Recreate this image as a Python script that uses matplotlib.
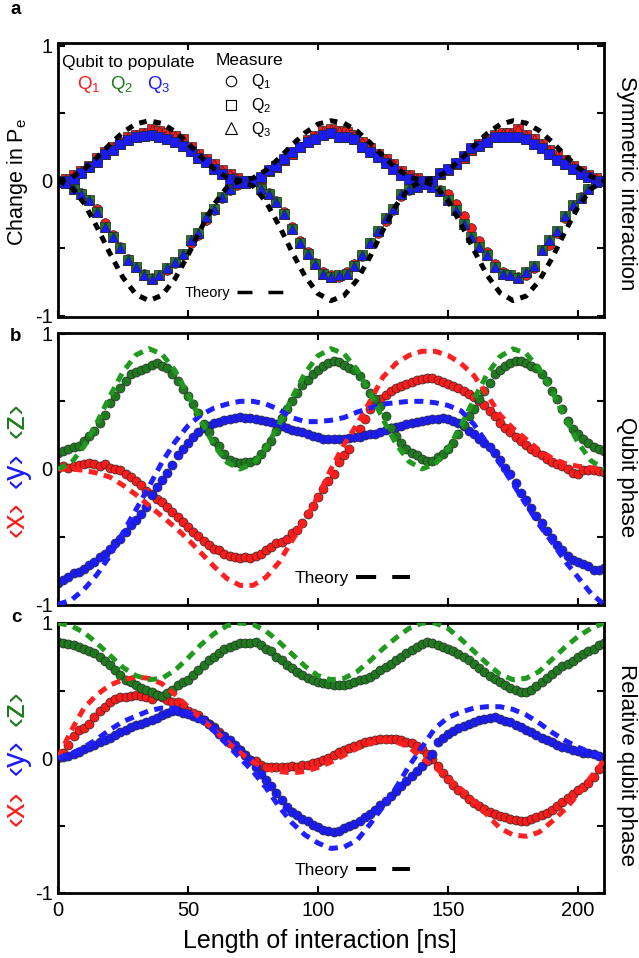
import numpy as np
import matplotlib
matplotlib.use("Agg")
import matplotlib.pyplot as plt
from matplotlib.lines import Line2D

plt.rcParams['font.family'] = ['Liberation Sans', 'DejaVu Sans']
plt.rcParams['mathtext.fontset'] = 'custom'
plt.rcParams['mathtext.rm'] = 'Liberation Sans'
plt.rcParams['mathtext.it'] = 'Liberation Sans:italic'
plt.rcParams['mathtext.bf'] = 'Liberation Sans:bold'

# ---------------- data ----------------
# Panel a: sampled every 3 ns
t_a = np.arange(0, 211, 3)
lower_q23 = [-0.01, -0.015, -0.06, -0.10, -0.145, -0.23, -0.34, -0.42, -0.50, -0.59,
             -0.64, -0.70, -0.73, -0.70, -0.65, -0.60, -0.545, -0.44, -0.39, -0.27,
             -0.21, -0.12, -0.065, -0.02, -0.015, -0.005, -0.06, -0.10, -0.16, -0.25,
             -0.36, -0.46, -0.54, -0.62, -0.69, -0.71, -0.70, -0.69, -0.63, -0.55,
             -0.46, -0.37, -0.28, -0.21, -0.10, -0.065, -0.045, -0.025, -0.045, -0.08,
             -0.145, -0.22, -0.32, -0.42, -0.49, -0.55, -0.64, -0.69, -0.70, -0.72,
             -0.68, -0.63, -0.515, -0.44, -0.37, -0.26, -0.18, -0.13, -0.06, -0.01,
             0.0]
lower_q1 = [0.0, -0.01, -0.05, -0.09, -0.14, -0.21, -0.31, -0.40, -0.49, -0.58,
            -0.64, -0.69, -0.72, -0.70, -0.66, -0.61, -0.55, -0.46, -0.40, -0.29,
            -0.22, -0.13, -0.07, -0.03, -0.01, 0.0, -0.05, -0.09, -0.15, -0.23,
            -0.34, -0.45, -0.53, -0.61, -0.68, -0.70, -0.71, -0.68, -0.62, -0.56,
            -0.46, -0.39, -0.30, -0.22, -0.11, -0.07, -0.04, -0.02, -0.03, -0.07,
            -0.10, -0.17, -0.26, -0.35, -0.45, -0.53, -0.62, -0.68, -0.70, -0.71,
            -0.70, -0.65, -0.51, -0.48, -0.39, -0.28, -0.19, -0.12, -0.06, -0.01,
            0.0]
upper_q23 = [0.0, 0.0, 0.015, 0.06, 0.10, 0.14, 0.20, 0.23, 0.275, 0.30,
             0.325, 0.33, 0.335, 0.325, 0.31, 0.29, 0.26, 0.22, 0.17, 0.14,
             0.09, 0.05, 0.015, 0.0, 0.0, 0.0, 0.03, 0.08, 0.11, 0.16,
             0.21, 0.25, 0.29, 0.31, 0.335, 0.35, 0.325, 0.325, 0.31, 0.25,
             0.21, 0.175, 0.13, 0.09, 0.04, 0.015, 0.0, 0.0, 0.0, 0.06,
             0.09, 0.13, 0.18, 0.24, 0.26, 0.29, 0.325, 0.325, 0.325, 0.325,
             0.31, 0.275, 0.24, 0.20, 0.15, 0.125, 0.09, 0.05, 0.03, 0.0,
             0.0]
upper_q1 = [0.0, 0.01, 0.04, 0.07, 0.11, 0.17, 0.21, 0.25, 0.29, 0.32,
            0.34, 0.35, 0.385, 0.37, 0.35, 0.33, 0.31, 0.25, 0.20, 0.16,
            0.12, 0.08, 0.05, 0.02, 0.0, 0.0, 0.02, 0.07, 0.10, 0.15,
            0.20, 0.25, 0.30, 0.33, 0.37, 0.38, 0.37, 0.36, 0.34, 0.29,
            0.24, 0.20, 0.16, 0.12, 0.07, 0.04, 0.02, 0.0, 0.0, 0.05,
            0.08, 0.12, 0.17, 0.23, 0.27, 0.31, 0.34, 0.35, 0.35, 0.385,
            0.34, 0.31, 0.27, 0.23, 0.19, 0.15, 0.11, 0.07, 0.04, 0.02,
            0.0]

# Theory curves sampled every 5 ns
t_th = np.arange(0, 211, 5)
a_th_lower = [0.0, -0.044, -0.166, -0.343, -0.54, -0.718, -0.843, -0.889, -0.849, -0.727,
              -0.552, -0.355, -0.176, -0.049, 0.0, -0.039, -0.157, -0.331, -0.528, -0.708,
              -0.837, -0.889, -0.852, -0.736, -0.564, -0.367, -0.185, -0.055, -0.001, -0.036,
              -0.149, -0.32, -0.516, -0.699, -0.831, -0.888, -0.855, -0.744, -0.575, -0.379,
              -0.195, -0.061, -0.001]
a_th_upper = [0.0, 0.022, 0.083, 0.172, 0.27, 0.359, 0.421, 0.444, 0.424, 0.364,
              0.276, 0.177, 0.088, 0.024, 0.0, 0.019, 0.078, 0.166, 0.264, 0.354,
              0.419, 0.444, 0.426, 0.368, 0.282, 0.183, 0.093, 0.027, 0.0, 0.018,
              0.074, 0.16, 0.258, 0.349, 0.416, 0.444, 0.427, 0.372, 0.288, 0.189,
              0.097, 0.031, 0.0]

# Panels b and c: sampled every 2 ns
t_bc = np.arange(0, 211, 2)
b_x = [0.01, 0.025, 0.01, 0.025, 0.03, 0.035, 0.045, 0.035, 0.025, 0.035,
       0.01, 0.0, -0.01, -0.04, -0.06, -0.09, -0.12, -0.16, -0.185, -0.22,
       -0.245, -0.28, -0.32, -0.355, -0.39, -0.43, -0.465, -0.495, -0.53, -0.565,
       -0.59, -0.60, -0.625, -0.64, -0.65, -0.66, -0.65, -0.655, -0.64, -0.625,
       -0.60, -0.575, -0.55, -0.54, -0.515, -0.47, -0.45, -0.40, -0.33, -0.27,
       -0.21, -0.15, -0.09, -0.04, 0.05, 0.10, 0.15, 0.24, 0.295, 0.37,
       0.44, 0.49, 0.515, 0.55, 0.575, 0.60, 0.615, 0.63, 0.64, 0.655,
       0.665, 0.675, 0.67, 0.655, 0.645, 0.63, 0.615, 0.60, 0.58, 0.555,
       0.53, 0.50, 0.47, 0.43, 0.39, 0.34, 0.30, 0.27, 0.24, 0.21,
       0.18, 0.15, 0.125, 0.10, 0.075, 0.055, 0.035, 0.02, 0.0, -0.03,
       -0.035, -0.01, -0.01, -0.01, -0.015, -0.025]
b_y = [-0.845, -0.82, -0.80, -0.77, -0.76, -0.74, -0.71, -0.685, -0.65, -0.625,
       -0.59, -0.55, -0.515, -0.465, -0.415, -0.38, -0.33, -0.28, -0.19, -0.13,
       -0.08, -0.03, 0.03, 0.10, 0.15, 0.19, 0.24, 0.27, 0.30, 0.32,
       0.34, 0.35, 0.36, 0.37, 0.38, 0.385, 0.375, 0.38, 0.37, 0.36,
       0.355, 0.345, 0.33, 0.32, 0.30, 0.29, 0.28, 0.27, 0.255, 0.245,
       0.235, 0.225, 0.22, 0.22, 0.22, 0.225, 0.23, 0.235, 0.24, 0.25,
       0.255, 0.26, 0.27, 0.285, 0.30, 0.31, 0.32, 0.33, 0.34, 0.35,
       0.355, 0.365, 0.37, 0.37, 0.375, 0.37, 0.355, 0.34, 0.315, 0.28,
       0.255, 0.225, 0.195, 0.16, 0.12, 0.07, 0.01, -0.04, -0.10, -0.18,
       -0.23, -0.29, -0.35, -0.40, -0.455, -0.51, -0.56, -0.60, -0.64, -0.67,
       -0.69, -0.705, -0.72, -0.75, -0.745, -0.735]
b_z = [0.12, 0.135, 0.15, 0.16, 0.17, 0.21, 0.245, 0.28, 0.34, 0.40,
       0.49, 0.54, 0.60, 0.65, 0.70, 0.72, 0.735, 0.75, 0.77, 0.785,
       0.76, 0.75, 0.70, 0.65, 0.59, 0.54, 0.48, 0.415, 0.33, 0.27,
       0.21, 0.17, 0.11, 0.07, 0.05, 0.045, 0.05, 0.05, 0.07, 0.11,
       0.16, 0.21, 0.28, 0.38, 0.44, 0.50, 0.56, 0.62, 0.66, 0.70,
       0.735, 0.76, 0.78, 0.795, 0.79, 0.77, 0.75, 0.73, 0.69, 0.625,
       0.565, 0.515, 0.465, 0.39, 0.305, 0.245, 0.19, 0.15, 0.12, 0.10,
       0.075, 0.06, 0.06, 0.085, 0.11, 0.145, 0.195, 0.255, 0.325, 0.39,
       0.44, 0.515, 0.575, 0.635, 0.70, 0.735, 0.76, 0.78, 0.795, 0.795,
       0.785, 0.76, 0.75, 0.705, 0.65, 0.575, 0.515, 0.44, 0.355, 0.295,
       0.255, 0.22, 0.19, 0.165, 0.145, 0.13]
b_th_x = [0.0, 0.0, -0.01, -0.03, -0.06, -0.12, -0.19, -0.27, -0.35, -0.43,
          -0.52, -0.62, -0.72, -0.81, -0.86, -0.86, -0.80, -0.69, -0.53, -0.38,
          -0.2, 0.0, 0.18, 0.33, 0.5, 0.68, 0.78, 0.84, 0.87, 0.87,
          0.84, 0.78, 0.69, 0.55, 0.40, 0.30, 0.22, 0.14, 0.08, 0.04,
          0.02, 0.01, 0.0]
b_th_y = [-1.0, -0.97, -0.89, -0.78, -0.64, -0.47, -0.30, -0.13, 0.05, 0.20,
          0.32, 0.40, 0.45, 0.48, 0.50, 0.50, 0.48, 0.44, 0.38, 0.35,
          0.35, 0.36, 0.38, 0.42, 0.45, 0.48, 0.49, 0.50, 0.50, 0.49,
          0.47, 0.43, 0.33, 0.19, 0.04, -0.11, -0.26, -0.41, -0.54, -0.68,
          -0.80, -0.92, -1.0]
b_th_z = [0.0, 0.044, 0.166, 0.343, 0.54, 0.718, 0.843, 0.889, 0.849, 0.727,
          0.552, 0.355, 0.176, 0.049, 0.0, 0.039, 0.157, 0.331, 0.528, 0.708,
          0.837, 0.889, 0.852, 0.736, 0.564, 0.367, 0.185, 0.055, 0.001, 0.036,
          0.149, 0.32, 0.516, 0.699, 0.831, 0.888, 0.855, 0.744, 0.575, 0.379,
          0.195, 0.061, 0.001]

c_x = [0.0, 0.035, 0.095, 0.16, 0.21, 0.22, 0.255, 0.305, 0.345, 0.38,
       0.415, 0.44, 0.455, 0.455, 0.46, 0.465, 0.46, 0.45, 0.44, 0.465,
       0.455, 0.43, 0.415, 0.415, 0.38, 0.345, 0.33, 0.32, 0.28, 0.255,
       0.23, 0.195, 0.145, 0.11, 0.085, 0.06, 0.02, -0.015, -0.025, -0.05,
       -0.065, -0.065, -0.065, -0.07, -0.065, -0.06, -0.065, -0.05, -0.05, -0.04,
       -0.03, -0.015, 0.0, 0.02, 0.045, 0.06, 0.075, 0.09, 0.105, 0.115,
       0.125, 0.135, 0.14, 0.14, 0.14, 0.14, 0.13, 0.12, 0.11, 0.09,
       0.07, 0.03, -0.01, -0.06, -0.11, -0.155, -0.20, -0.235, -0.27, -0.30,
       -0.33, -0.355, -0.38, -0.40, -0.415, -0.43, -0.44, -0.45, -0.46, -0.47,
       -0.465, -0.455, -0.44, -0.425, -0.41, -0.385, -0.355, -0.325, -0.295, -0.27,
       -0.24, -0.215, -0.185, -0.14, -0.08, -0.03]
c_y = [0.02, 0.01, 0.015, 0.03, 0.045, 0.07, 0.085, 0.095, 0.115, 0.13,
       0.145, 0.17, 0.19, 0.21, 0.23, 0.245, 0.255, 0.27, 0.28, 0.30,
       0.32, 0.33, 0.345, 0.345, 0.33, 0.325, 0.31, 0.30, 0.28, 0.25,
       0.22, 0.18, 0.16, 0.13, 0.095, 0.06, 0.02, -0.015, -0.065, -0.115,
       -0.165, -0.21, -0.26, -0.31, -0.36, -0.40, -0.42, -0.455, -0.47, -0.495,
       -0.51, -0.53, -0.54, -0.545, -0.54, -0.52, -0.505, -0.49, -0.47, -0.44,
       -0.415, -0.385, -0.35, -0.32, -0.285, -0.245, -0.21, -0.17, -0.135, -0.095,
       -0.06, -0.02, 0.03, 0.12, 0.15, 0.18, 0.20, 0.22, 0.235, 0.255,
       0.27, 0.28, 0.29, 0.30, 0.305, 0.29, 0.275, 0.265, 0.245, 0.23,
       0.21, 0.19, 0.17, 0.15, 0.13, 0.115, 0.10, 0.085, 0.075, 0.06,
       0.05, 0.04, 0.035, 0.03, 0.015, 0.01]
c_z = [0.86, 0.855, 0.845, 0.84, 0.825, 0.805, 0.795, 0.775, 0.75, 0.715,
       0.69, 0.65, 0.615, 0.58, 0.565, 0.54, 0.515, 0.505, 0.49, 0.465,
       0.46, 0.48, 0.505, 0.54, 0.565, 0.58, 0.615, 0.65, 0.69, 0.725,
       0.75, 0.775, 0.805, 0.825, 0.84, 0.85, 0.855, 0.855, 0.86, 0.84,
       0.81, 0.79, 0.75, 0.725, 0.69, 0.665, 0.64, 0.615, 0.59, 0.58,
       0.565, 0.555, 0.545, 0.54, 0.54, 0.54, 0.55, 0.56, 0.575, 0.585,
       0.60, 0.625, 0.65, 0.675, 0.70, 0.725, 0.75, 0.775, 0.80, 0.825,
       0.845, 0.86, 0.855, 0.835, 0.82, 0.805, 0.79, 0.77, 0.75, 0.725,
       0.695, 0.67, 0.64, 0.61, 0.585, 0.56, 0.54, 0.52, 0.505, 0.49,
       0.49, 0.505, 0.53, 0.56, 0.59, 0.62, 0.65, 0.68, 0.70, 0.72,
       0.745, 0.77, 0.79, 0.81, 0.835, 0.85]
c_th_x = [0.0, 0.2, 0.37, 0.47, 0.54, 0.58, 0.60, 0.59, 0.55, 0.47,
          0.38, 0.29, 0.21, 0.12, 0.04, -0.03, -0.08, -0.10, -0.11, -0.10,
          -0.07, -0.03, 0.02, 0.07, 0.11, 0.13, 0.12, 0.08, 0.0, -0.07,
          -0.15, -0.23, -0.32, -0.42, -0.52, -0.57, -0.58, -0.55, -0.47, -0.38,
          -0.27, -0.14, -0.02]
c_th_y = [0.0, 0.03, 0.08, 0.14, 0.21, 0.27, 0.31, 0.35, 0.37, 0.37,
          0.34, 0.28, 0.2, 0.1, 0.0, -0.1, -0.22, -0.36, -0.48, -0.57,
          -0.63, -0.67, -0.66, -0.61, -0.49, -0.36, -0.22, -0.06, 0.08, 0.22,
          0.30, 0.34, 0.37, 0.38, 0.38, 0.36, 0.32, 0.26, 0.19, 0.13,
          0.08, 0.04, 0.01]
c_th_z = [1.0, 0.98, 0.93, 0.85, 0.76, 0.67, 0.61, 0.58, 0.59, 0.65,
          0.74, 0.84, 0.92, 0.98, 1.0, 0.99, 0.94, 0.86, 0.77, 0.68,
          0.61, 0.58, 0.59, 0.64, 0.72, 0.81, 0.89, 0.96, 1.0, 1.0,
          0.96, 0.88, 0.79, 0.70, 0.62, 0.58, 0.59, 0.64, 0.73, 0.82,
          0.90, 0.96, 1.0]

xticks = [0, 50, 100, 150, 200]
yticks = [-1, -0.5, 0, 0.5, 1]
yticklabels = ['-1', '', '0', '', '1']

# ---------------- styles ----------------
RED, GREEN, BLUE = '#ff1a1a', '#1f7a1f', '#1a1aff'
TRED, TGREEN, TBLUE = '#ff2020', '#1f9a1f', '#1f1fff'
EDGE = '#2a2a2a'

W, H = 639, 958
fig = plt.figure(figsize=(W / 100, H / 100), dpi=100)

def px_axes(left, top, right, bottom):
    return fig.add_axes([left / W, 1 - bottom / H, (right - left) / W, (bottom - top) / H])

axA = px_axes(58, 43, 604, 317)
axB = px_axes(58, 333, 604, 605)
axC = px_axes(58, 623, 604, 893)

for ax, ylim in [(axA, (-1.01, 1.02)), (axB, (-1.005, 1.005)), (axC, (-1.0, 1.0))]:
    ax.set_xlim(0, 210)
    ax.set_ylim(*ylim)
    ax.set_xticks(xticks)
    ax.set_yticks(yticks)
    ax.set_yticklabels(yticklabels)
    ax.tick_params(direction='in', top=True, right=True, length=5, width=1.5,
                   labelsize=14.5, pad=4)
    ax.tick_params(axis='x', pad=6)
    for s in ax.spines.values():
        s.set_linewidth(2.0)
axA.tick_params(labelbottom=False)
axB.tick_params(labelbottom=False)

# ---------------- panel a ----------------
mk = dict(ls='none', mec=EDGE, mew=0.5)
# populate Q1 (red)
axA.plot(t_a, lower_q1, marker='o', ms=7, mfc=RED, **mk)
axA.plot(t_a, upper_q1, marker='s', ms=6.5, mfc=RED, **mk)
axA.plot(t_a, upper_q1, marker='^', ms=7, mfc=RED, **mk)
# populate Q2 (green)
axA.plot(t_a, upper_q23, marker='o', ms=7, mfc=GREEN, **mk)
axA.plot(t_a, lower_q23, marker='s', ms=6.5, mfc=GREEN, **mk)
axA.plot(t_a, upper_q23, marker='^', ms=7, mfc=GREEN, **mk)
# populate Q3 (blue)
axA.plot(t_a, upper_q23, marker='o', ms=7, mfc=BLUE, **mk)
axA.plot(t_a, upper_q23, marker='s', ms=6.5, mfc=BLUE, **mk)
axA.plot(t_a, lower_q23, marker='^', ms=7, mfc=BLUE, **mk)

th = dict(lw=3.6, ls=(0, (1.5, 1.4)), zorder=5)
axA.plot(t_th, a_th_lower, color='k', **th)
axA.plot(t_th, a_th_upper, color='k', **th)

# Qubit to populate
axA.text(0.007, 0.912, 'Qubit to populate', transform=axA.transAxes,
         fontsize=12.5, ha='left', va='baseline')
for xf, lab, c in [(0.035, 'Q$_1$', RED), (0.095, 'Q$_2$', GREEN), (0.163, 'Q$_3$', BLUE)]:
    axA.text(xf, 0.832, lab, transform=axA.transAxes, fontsize=13.5, color=c,
             ha='left', va='baseline')

# Measure legend
mh = [Line2D([], [], ls='none', marker='o', ms=7.5, mfc='white', mec='k', mew=0.8),
      Line2D([], [], ls='none', marker='s', ms=7.5, mfc='white', mec='k', mew=0.8),
      Line2D([], [], ls='none', marker='^', ms=8, mfc='white', mec='k', mew=0.8)]
legM = axA.legend(mh, ['Q$_1$', 'Q$_2$', 'Q$_3$'], title='Measure', loc='upper left',
                  bbox_to_anchor=(0.289, 0.965), frameon=False, fontsize=11.5,
                  title_fontsize=12.5, handlelength=1.9, handletextpad=0.3,
                  labelspacing=0.3, borderpad=0, borderaxespad=0, alignment='left')
axA.add_artist(legM)

def theory_legend(ax, x, y, fs, lw, dash, hl, htp):
    h = Line2D([], [], color='k', lw=lw, ls=(0, dash))
    leg = ax.legend([h], ['Theory'], loc='center left', bbox_to_anchor=(x, y),
                    frameon=False, fontsize=fs, markerfirst=False, handlelength=hl,
                    handletextpad=htp, borderpad=0, borderaxespad=0)
    return leg

theory_legend(axA, 0.2326, 0.0876, 10.5, 2.5, (4.3, 4.6), 3.3, 0.45)

# ---------------- panel b ----------------
mk2 = dict(ls='none', marker='o', ms=6.5, mec=EDGE, mew=0.5)
axB.plot(t_bc, b_x, mfc=RED, **mk2)
axB.plot(t_bc, b_y, mfc=BLUE, **mk2)
axB.plot(t_bc, b_z, mfc=GREEN, **mk2)
th2 = dict(lw=3.6, ls=(0, (1.8, 1.3)), zorder=5)
axB.plot(t_th, b_th_x, color=TRED, **th2)
axB.plot(t_th, b_th_y, color=TBLUE, **th2)
axB.plot(t_th, b_th_z, color=TGREEN, **th2)
theory_legend(axB, 0.434, 0.099, 12.5, 2.9, (5, 4), 3.1, 0.4)

# ---------------- panel c ----------------
axC.plot(t_bc, c_x, mfc=RED, **mk2)
axC.plot(t_bc, c_y, mfc=BLUE, **mk2)
axC.plot(t_bc, c_z, mfc=GREEN, **mk2)
axC.plot(t_th, c_th_x, color=TRED, **th2)
axC.plot(t_th, c_th_y, color=TBLUE, **th2)
axC.plot(t_th, c_th_z, color=TGREEN, **th2)
theory_legend(axC, 0.434, 0.085, 12.5, 2.9, (5, 4), 3.1, 0.4)

# ---------------- labels ----------------
def ftext(x, y, s, **kw):
    fig.text(x / W, 1 - y / H, s, **kw)

ftext(16, 10, 'a', fontsize=13.5, fontweight='bold', ha='center', va='center')
ftext(16, 336, 'b', fontsize=13.5, fontweight='bold', ha='center', va='center')
ftext(16, 618, 'c', fontsize=13.5, fontweight='bold', ha='center', va='center')

ftext(18, 182, 'Change in P$_\\mathrm{e}$', fontsize=15.5, rotation=90, ha='center', va='center')
ftext(320, 941, 'Length of interaction [ns]', fontsize=18, ha='center', va='center')

ftext(627, 183, 'Symmetric interaction', fontsize=16, rotation=270, ha='center', va='center')
ftext(627, 477, 'Qubit phase', fontsize=16, rotation=270, ha='center', va='center')
ftext(627, 765, 'Relative qubit phase', fontsize=16, rotation=270, ha='center', va='center')

for ys in [(519, 470, 420), (808, 757, 708)]:
    for y, s, c in zip(ys, ['\u2039x\u203a', '\u2039y\u203a', '\u2039z\u203a'], [RED, BLUE, GREEN]):
        ftext(16, y, s, fontsize=22, rotation=90, ha='center', va='center', color=c)

fig.savefig('out.png', dpi=100)
